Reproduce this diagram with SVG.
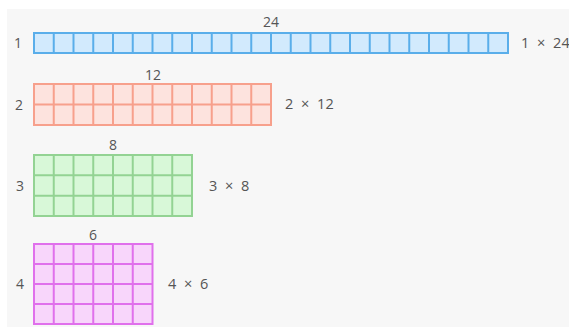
<svg xmlns="http://www.w3.org/2000/svg" width="569" height="329" viewBox="0 0 569 329">
<style>
text{font-family:"Open Sans","Liberation Sans",sans-serif;font-size:14px;fill:#555}
.c{text-anchor:middle}
.r{word-spacing:4px;font-size:14.5px}
.b rect,.b path{stroke:#5aaeea;stroke-width:2;fill:none}
.b rect{fill:#d2eafd}
.o rect,.o path{stroke:#f7a08c;stroke-width:2;fill:none}
.o rect{fill:#fde3de}
.g rect,.g path{stroke:#93d393;stroke-width:2;fill:none}
.g rect{fill:#d8f8d8}
.p rect,.p path{stroke:#e070ec;stroke-width:2;fill:none}
.p rect{fill:#f8d6fb}
</style>
<rect x="7" y="9" width="562" height="318" fill="#f7f7f7"/>
<g id="row1" class="b">
<rect x="34" y="33" width="474" height="20"/>
<path d="M53.75 33V53M73.5 33V53M93.25 33V53M113 33V53M132.75 33V53M152.5 33V53M172.25 33V53M192 33V53M211.75 33V53M231.5 33V53M251.25 33V53M271 33V53M290.75 33V53M310.5 33V53M330.25 33V53M350 33V53M369.75 33V53M389.5 33V53M409.25 33V53M429 33V53M448.75 33V53M468.5 33V53M488.25 33V53"/>
<text class="c" x="271" y="27">24</text>
<text class="c" x="18" y="48">1</text>
<text class="r" x="521" y="48">1 × 24</text>
</g>
<g id="row2" class="o">
<rect x="34" y="84" width="237" height="41"/>
<path d="M34 104.5H271M53.75 84V125M73.5 84V125M93.25 84V125M113 84V125M132.75 84V125M152.5 84V125M172.25 84V125M192 84V125M211.75 84V125M231.5 84V125M251.25 84V125"/>
<text class="c" x="153" y="80">12</text>
<text class="c" x="19" y="110">2</text>
<text class="r" x="285" y="109">2 × 12</text>
</g>
<g id="row3" class="g">
<rect x="34" y="155" width="158" height="61"/>
<path d="M34 175.3H192M34 195.7H192M53.75 155V216M73.5 155V216M93.25 155V216M113 155V216M132.75 155V216M152.5 155V216M172.25 155V216"/>
<text class="c" x="113" y="150">8</text>
<text class="c" x="20" y="191">3</text>
<text class="r" x="209" y="191">3 × 8</text>
</g>
<g id="row4" class="p">
<rect x="34" y="244" width="118.5" height="80"/>
<path d="M34 264H152.5M34 284H152.5M34 304H152.5M53.75 244V324M73.5 244V324M93.25 244V324M113 244V324M132.75 244V324"/>
<text class="c" x="93" y="240">6</text>
<text class="c" x="20" y="289">4</text>
<text class="r" x="168" y="289">4 × 6</text>
</g>
</svg>
